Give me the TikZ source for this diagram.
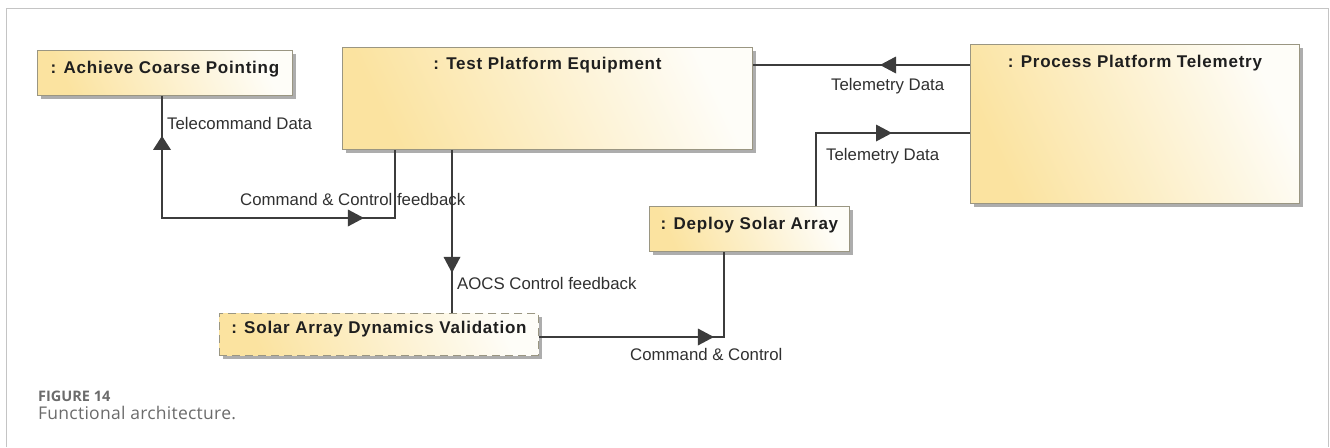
\documentclass[tikz,border=0pt]{standalone}
\usepackage{fontspec}
\setmainfont{Liberation Sans}
\newfontfamily\captionfont{Open Sans}
\usetikzlibrary{shadows,decorations.markings}

\definecolor{boxyellow}{HTML}{FBE3A0}
\definecolor{boxwhite}{HTML}{FEFDF8}
\definecolor{boxedge}{HTML}{9A9682}
\definecolor{flow}{HTML}{3C3C3C}
\definecolor{framegray}{HTML}{C4C4C4}
\definecolor{captiongray}{HTML}{6B6B6B}
\definecolor{labeltext}{HTML}{303030}

\tikzset{
  action/.style={draw=boxedge, line width=0.9pt,
    left color=boxyellow, right color=boxwhite, shading angle=115,
    drop shadow={shadow xshift=4pt, shadow yshift=-4pt, fill=black!32, opacity=1},
    inner sep=0pt, anchor=north west},
  title/.style={inner sep=0pt, anchor=base, text=black!88,
    font=\fontsize{17pt}{20pt}\selectfont\bfseries\addfontfeatures{LetterSpace=4.5}},
  flowlabel/.style={inner sep=0pt, anchor=base west, text=labeltext,
    font=\fontsize{16.8pt}{20pt}\selectfont},
  flowline/.style={draw=flow, line width=1.1pt},
  ahead/.style={postaction={decorate, decoration={markings,
    mark=at position #1 with {\fill[flow] (0pt,0pt) -- (-16pt,8.5pt) -- (-16pt,-8.5pt) -- cycle;}}}},
  aback/.style={postaction={decorate, decoration={markings,
    mark=at position #1 with {\fill[flow] (0pt,0pt) -- (14pt,9pt) -- (14pt,-9pt) -- cycle;}}}},
}

\begin{document}
\begin{tikzpicture}[x=1pt,y=-1pt]
\useasboundingbox (0,0) rectangle (1330,447);

% page frame, open at the bottom
\draw[framegray, line width=1pt] (6,447) -- (6,8) -- (1328,8) -- (1328,447);

% action boxes
\node[action, minimum width=255pt, minimum height=45pt] (acp) at (37,50) {};
\node[action, minimum width=410pt, minimum height=102pt] (tpe) at (342,47) {};
\node[action, minimum width=329pt, minimum height=159pt] (ppt) at (970,44) {};
\node[action, minimum width=200pt, minimum height=45pt] (dsa) at (649,206) {};
\node[action, dash pattern=on 8pt off 5pt, minimum width=319pt, minimum height=42pt] (sadv) at (219,313) {};

\node[title] (acp-t) at (acp.north |- 0,73) {: Achieve Coarse Pointing};
\node[title] (tpe-t) at (tpe.north |- 0,69) {: Test Platform Equipment};
\node[title] (ppt-t) at (ppt.north |- 0,67) {: Process Platform Telemetry};
\node[title] (dsa-t) at (dsa.north |- 0,229) {: Deploy Solar Array};
\node[title] (sadv-t) at (sadv.north |- 0,333) {: Solar Array Dynamics Validation};

% bend points of the flows
\coordinate (b1) at (162,218);
\coordinate (b2) at (395,218);
\coordinate (b3) at (452,230);
\coordinate (b4) at (724,337);
\coordinate (b5) at (816,133);
\coordinate (b6) at (880,65);

% object flows
\draw[flowline, aback=40pt, ahead=324pt]
  (acp.south -| b1) -- (b1) -- (b2) -- (tpe.south -| b2);
\draw[flowline, ahead=123pt] (tpe.south -| b3) -- (sadv.north -| b3);
\draw[flowline, ahead=175pt] (sadv.east |- b4) -- (b4) -- (dsa.south -| b4);
\draw[flowline, ahead=149pt] (dsa.north -| b5) -- (b5) -- (ppt.west |- b5);
\draw[flowline, ahead=90pt] (ppt.west |- b6) -- (tpe.east |- b6);

% flow labels
\node[flowlabel] (l1) at (167,129.5) {Telecommand Data};
\node[flowlabel] (l2) at (240,205.5) {Command \& Control feedback};
\node[flowlabel] (l3) at (457,289) {AOCS Control feedback};
\node[flowlabel] (l4) at (630,360.5) {Command \& Control};
\node[flowlabel] (l5) at (831,90.5) {Telemetry Data};
\node[flowlabel] (l6) at (826,160) {Telemetry Data};

% caption
\node[inner sep=0pt, anchor=base west, text=captiongray,
  font=\captionfont\fontsize{14.5pt}{17pt}\selectfont\bfseries] (fig) at (38,401) {FIGURE 14};
\node[inner sep=0pt, anchor=base west, text=captiongray,
  font=\captionfont\fontsize{17.5pt}{20pt}\selectfont\addfontfeatures{LetterSpace=1.5}] (cap) at (38,419) {Functional architecture.};
\end{tikzpicture}
\end{document}
